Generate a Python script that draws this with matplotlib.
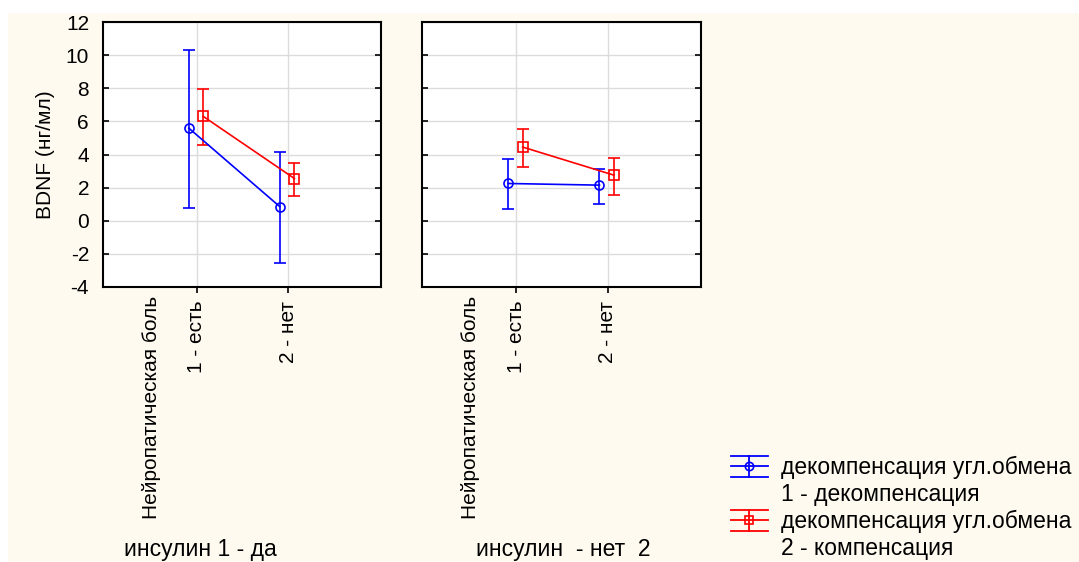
import matplotlib.pyplot as plt
from matplotlib.patches import Rectangle
from matplotlib.lines import Line2D
from matplotlib.legend_handler import HandlerBase

plt.rcParams['font.family'] = ['Liberation Sans', 'DejaVu Sans']
plt.rcParams['axes.unicode_minus'] = False

# --- data (means and 95% CI bounds) ---
levels = ['1 - есть', '2 - нет']
panels = ['инсулин 1 - да', 'инсулин  - нет  2']
factor_name = 'Нейропатическая боль'
series_names = ['декомпенсация угл.обмена\n1 - декомпенсация',
                'декомпенсация угл.обмена\n2 - компенсация']

# panel 1 (инсулин да)
p1_decomp_mean = [5.6, 0.85]
p1_decomp_low = [0.8, -2.55]
p1_decomp_high = [10.3, 4.15]
p1_comp_mean = [6.3, 2.55]
p1_comp_low = [4.6, 1.5]
p1_comp_high = [7.95, 3.5]

# panel 2 (инсулин нет)
p2_decomp_mean = [2.25, 2.15]
p2_decomp_low = [0.7, 1.0]
p2_decomp_high = [3.7, 3.15]
p2_comp_mean = [4.45, 2.75]
p2_comp_low = [3.25, 1.55]
p2_comp_high = [5.55, 3.8]

FS = 15      # axis text
FS_BIG = 16.5  # legend and panel names

W, H = 1079, 562
fig = plt.figure(figsize=(W / 100, H / 100), dpi=100)
fig.patch.set_facecolor('white')
fig.add_artist(Rectangle((8 / W, 0), 1 - 8 / W, 1 - 13 / H, transform=fig.transFigure,
                         facecolor='#fffaf0', edgecolor='none', zorder=-10))


class ErrHandler(HandlerBase):
    # statistica-style legend symbol: line + marker + full-width caps
    def create_artists(self, legend, orig, xd, yd, width, height, fontsize, trans):
        c = orig.get_color()
        ym = height / 2 - yd
        h = 10.5 * 0.72
        xm = width / 2 - xd
        arts = [
            Line2D([-xd, width - xd], [ym, ym], color=c, lw=1.3),
            Line2D([-xd, width - xd], [ym + h, ym + h], color=c, lw=1.3),
            Line2D([-xd, width - xd], [ym - h, ym - h], color=c, lw=1.3),
            Line2D([xm, xm], [ym - h, ym + h], color=c, lw=1.3),
            Line2D([xm], [ym], marker=orig.get_marker(), ms=6, mfc='none', mec=c, mew=1.2),
        ]
        for a in arts:
            a.set_transform(trans)
        return arts


def draw_panel(ax, dm, dl, dh, cm, cl, chh, left_axis):
    x = [1, 2]
    xb = [v - 0.09 for v in x]
    xr = [v + 0.07 for v in x]
    ax.errorbar(xb, dm, yerr=[[m - l for m, l in zip(dm, dl)], [h - m for m, h in zip(dm, dh)]],
                color='blue', marker='o', ms=6.5, mfc='none', mew=1.2, lw=1.2,
                capsize=4, capthick=1.2, elinewidth=1.2)
    ax.errorbar(xr, cm, yerr=[[m - l for m, l in zip(cm, cl)], [h - m for m, h in zip(cm, chh)]],
                color='red', marker='s', ms=6.5, mfc='none', mew=1.2, lw=1.2,
                capsize=4, capthick=1.2, elinewidth=1.2)
    ax.set_xlim(-0.03, 3.02)
    ax.set_ylim(-4, 12)
    ax.set_yticks(range(-4, 13, 2))
    ax.set_xticks(x)
    ax.set_xticklabels(levels, rotation=90, fontsize=FS)
    ax.set_facecolor('white')
    ax.grid(True, color='#dcdcdc', lw=1)
    ax.set_axisbelow(True)
    for s in ax.spines.values():
        s.set_linewidth(1.5)
    ax.tick_params(axis='y', direction='in', right=True, length=4, width=1.2,
                   labelsize=FS, pad=10)
    ax.tick_params(axis='x', direction='out', top=False, length=4, width=1.2, pad=6)
    if not left_axis:
        ax.tick_params(axis='y', labelleft=False)
    ax.text(0.5, -0.035, factor_name, transform=ax.get_xaxis_transform(),
            rotation=90, ha='center', va='top', fontsize=FS)


ax1 = fig.add_axes([103 / W, 1 - 287 / H, 278 / W, 265 / H])
ax2 = fig.add_axes([422 / W, 1 - 287 / H, 279 / W, 265 / H])

draw_panel(ax1, p1_decomp_mean, p1_decomp_low, p1_decomp_high,
           p1_comp_mean, p1_comp_low, p1_comp_high, True)
draw_panel(ax2, p2_decomp_mean, p2_decomp_low, p2_decomp_high,
           p2_comp_mean, p2_comp_low, p2_comp_high, False)

ax1.set_ylabel('BDNF (нг/мл)', fontsize=FS, labelpad=8)

fig.text(200 / W, 1 / H, panels[0], ha='center', va='bottom', fontsize=FS_BIG)
fig.text(563 / W, 1 / H, panels[1], ha='center', va='bottom', fontsize=FS_BIG)

# legend
h_dec = Line2D([], [], color='blue', marker='o')
h_com = Line2D([], [], color='red', marker='s')
blank = Line2D([], [], linestyle='none')
lab = []
for s in series_names:
    lab += s.split('\n')
leg = fig.legend([h_dec, blank, h_com, blank], lab,
                 handler_map={h_dec: ErrHandler(), h_com: ErrHandler()},
                 loc='upper left', bbox_to_anchor=(731 / W, 1 - 456 / H),
                 frameon=False, fontsize=FS_BIG, handlelength=37 / 23, handletextpad=0.57,
                 labelspacing=0.17, borderaxespad=0, borderpad=0)

fig.savefig('out.png', dpi=100, facecolor=fig.get_facecolor())
